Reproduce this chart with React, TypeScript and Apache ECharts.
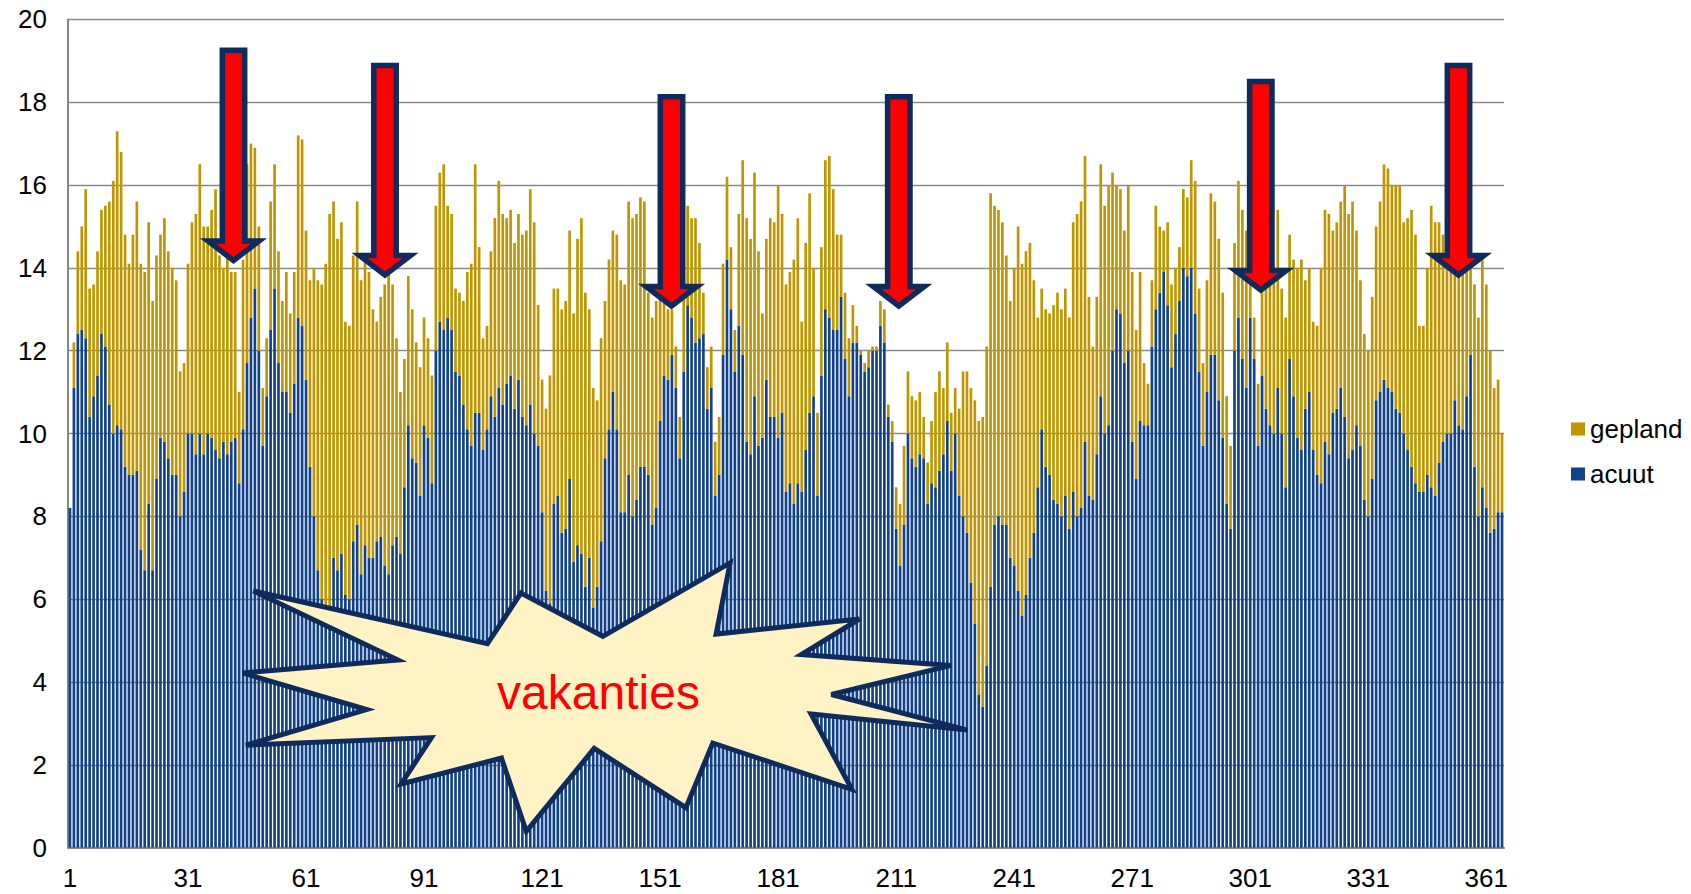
import React, { useEffect, useRef } from "react";
import * as echarts from "echarts";

const dayLabels: string[] = Array.from({ length: 365 }, (_, i) => String(i + 1));

const acuut: number[] = [
  8.2, 11.1, 12.4, 12.5, 12.3, 10.4, 10.9, 11.4, 12.4, 12.1,
  10.7, 10.0, 10.2, 10.1, 9.2, 9.0, 9.0, 9.1, 7.2, 6.7,
  8.3, 6.7, 8.9, 9.9, 9.8, 9.4, 9.0, 9.0, 8.0, 8.6,
  10.0, 10.0, 9.5, 10.0, 9.5, 10.0, 9.9, 9.6, 9.4, 9.8,
  9.5, 9.8, 9.9, 8.8, 10.1, 11.7, 12.8, 13.5, 12.0, 9.7,
  10.9, 12.5, 13.5, 11.7, 11.0, 11.0, 10.5, 11.2, 12.8, 12.6,
  11.3, 9.2, 8.0, 6.7, 6.0, 5.6, 5.8, 7.0, 6.7, 7.1,
  6.1, 6.0, 7.4, 7.8, 6.6, 7.3, 7.0, 7.0, 7.4, 7.5,
  6.8, 6.6, 7.3, 7.5, 7.1, 8.7, 10.2, 9.4, 9.3, 8.5,
  10.2, 9.9, 8.8, 12.0, 12.7, 12.5, 12.8, 12.5, 11.5, 11.4,
  10.7, 10.1, 9.7, 10.5, 10.5, 9.6, 10.1, 10.9, 10.4, 11.1,
  10.7, 11.2, 11.4, 10.6, 11.3, 10.4, 10.2, 10.7, 10.0, 9.7,
  8.1, 6.2, 5.9, 8.3, 8.5, 7.6, 7.7, 8.9, 6.9, 7.3,
  7.1, 6.3, 7.0, 5.8, 6.3, 7.4, 9.4, 10.1, 11.0, 10.1,
  8.1, 8.1, 9.0, 8.0, 8.4, 9.2, 9.2, 9.0, 7.8, 8.2,
  10.3, 11.4, 11.3, 11.9, 11.1, 9.4, 11.5, 13.1, 12.8, 12.2,
  12.3, 12.4, 10.6, 11.1, 8.5, 9.0, 11.9, 14.2, 13.0, 11.5,
  12.6, 11.9, 9.8, 9.5, 10.9, 9.7, 9.9, 11.3, 10.4, 10.4,
  9.9, 10.5, 8.6, 8.8, 8.3, 8.8, 8.6, 9.6, 10.5, 10.9,
  8.5, 11.4, 13.0, 12.8, 12.5, 12.5, 13.3, 11.8, 10.9, 12.2,
  12.2, 11.9, 11.5, 11.6, 12.0, 12.0, 12.6, 12.2, 10.4, 9.8,
  7.7, 6.8, 7.8, 10.0, 9.4, 9.2, 9.5, 9.4, 8.3, 8.8,
  8.7, 9.1, 9.5, 10.3, 9.1, 10.0, 8.5, 8.0, 7.6, 6.4,
  5.4, 3.7, 3.4, 4.4, 6.3, 7.8, 8.0, 7.8, 7.8, 7.0,
  6.8, 6.2, 5.6, 6.1, 7.0, 7.6, 8.7, 10.1, 9.2, 9.0,
  8.4, 8.3, 8.0, 8.5, 7.7, 8.6, 8.0, 8.2, 9.8, 8.5,
  8.4, 9.5, 10.9, 10.0, 10.2, 12.0, 13.0, 12.9, 11.7, 12.0,
  9.8, 8.9, 10.3, 10.2, 10.2, 12.1, 13.0, 13.4, 13.9, 13.1,
  11.6, 12.4, 13.2, 14.0, 13.8, 14.0, 12.9, 11.5, 9.7, 11.0,
  11.9, 11.9, 10.8, 9.9, 8.3, 7.7, 12.0, 12.8, 11.8, 11.1,
  12.8, 11.8, 9.7, 11.4, 10.6, 10.2, 10.0, 11.1, 10.0, 8.7,
  11.8, 10.9, 9.9, 9.6, 10.6, 11.0, 9.6, 9.0, 8.8, 9.8,
  9.5, 10.5, 10.6, 11.1, 10.4, 9.4, 9.6, 10.2, 9.7, 8.4,
  8.0, 8.9, 10.8, 11.0, 11.3, 11.1, 11.0, 10.6, 10.5, 10.0,
  9.6, 9.2, 8.8, 8.6, 8.6, 9.0, 8.7, 8.5, 9.3, 9.8,
  10.0, 10.0, 10.8, 10.2, 10.1, 10.9, 11.9, 9.2, 8.0, 8.7,
  8.2, 7.6, 7.7, 8.1, 8.1,
];

const gepland: number[] = [
  0.0, 1.1, 2.0, 2.5, 3.6, 3.1, 2.7, 3.0, 3.0, 3.4,
  4.9, 6.1, 7.1, 6.7, 5.6, 5.1, 5.8, 6.5, 6.9, 7.2,
  6.8, 6.5, 5.4, 4.9, 5.4, 5.0, 5.0, 4.7, 3.5, 3.1,
  4.1, 5.1, 5.8, 6.5, 5.5, 5.0, 5.5, 6.3, 4.9, 4.2,
  5.0, 4.1, 4.0, 2.2, 4.1, 4.8, 4.2, 3.4, 3.0, 1.4,
  1.4, 3.1, 3.0, 2.7, 2.2, 2.9, 2.4, 2.7, 4.4, 4.5,
  3.6, 4.5, 6.0, 7.0, 7.6, 8.5, 9.5, 8.6, 8.0, 8.0,
  6.6, 6.6, 6.9, 7.8, 7.1, 6.9, 6.9, 6.0, 5.3, 5.8,
  6.8, 7.4, 6.3, 4.8, 3.9, 3.1, 3.6, 3.6, 2.9, 3.1,
  2.6, 2.4, 2.6, 3.5, 3.6, 4.0, 2.7, 2.8, 2.0, 2.0,
  2.5, 3.8, 4.4, 6.0, 4.0, 2.7, 2.5, 3.5, 4.8, 5.0,
  4.6, 4.0, 4.0, 4.0, 4.0, 4.4, 4.7, 5.2, 5.1, 3.4,
  3.2, 4.4, 5.5, 5.2, 5.0, 5.4, 5.5, 6.0, 6.0, 7.4,
  8.1, 7.1, 6.0, 5.3, 4.5, 4.9, 3.8, 4.1, 3.9, 4.7,
  5.6, 5.5, 6.6, 7.2, 6.9, 6.5, 6.4, 4.4, 5.0, 5.0,
  3.1, 1.8, 1.7, 1.1, 1.0, 1.0, 2.1, 2.4, 2.4, 3.0,
  2.3, 1.0, 1.0, 1.0, 1.3, 1.4, 2.2, 2.0, 1.5, 1.0,
  2.7, 4.7, 5.4, 5.2, 5.4, 4.7, 3.0, 3.4, 4.8, 4.7,
  6.1, 4.8, 5.0, 5.1, 5.9, 6.4, 4.1, 5.0, 5.3, 3.1,
  2.0, 3.1, 3.6, 3.9, 3.4, 2.3, 1.5, 1.6, 1.4, 0.9,
  0.4, 0.1, 0.2, 0.4, 0.1, 0.1, 0.6, 0.8, 0.3, 0.5,
  1.0, 1.5, 1.9, 1.5, 1.5, 1.6, 1.5, 1.0, 1.0, 1.5,
  2.3, 2.4, 1.6, 1.9, 1.4, 1.1, 2.1, 3.5, 3.9, 4.7,
  5.4, 6.6, 7.0, 7.7, 9.5, 7.7, 7.4, 7.3, 6.5, 6.2,
  7.2, 8.8, 8.5, 8.3, 7.6, 6.1, 4.1, 3.4, 3.8, 3.9,
  4.7, 5.1, 5.0, 5.0, 5.1, 6.5, 7.3, 7.4, 6.9, 4.8,
  3.7, 3.8, 5.6, 5.5, 5.8, 4.3, 3.0, 3.0, 3.2, 4.0,
  4.1, 3.6, 3.6, 1.5, 1.0, 1.6, 2.5, 1.6, 1.0, 2.0,
  2.0, 1.6, 1.3, 1.9, 1.9, 2.6, 3.2, 2.0, 2.0, 2.7,
  3.9, 3.7, 3.9, 3.5, 2.6, 2.0, 2.6, 3.3, 3.6, 3.8,
  1.4, 1.0, 1.5, 2.2, 3.0, 3.6, 3.9, 4.3, 3.5, 4.1,
  3.0, 3.3, 4.1, 4.6, 3.1, 3.0, 3.1, 3.6, 5.2, 5.6,
  5.8, 4.4, 4.5, 4.5, 5.6, 5.9, 6.0, 4.7, 4.0, 4.0,
  4.0, 4.4, 4.2, 4.6, 5.2, 5.3, 5.0, 5.4, 5.5, 5.1,
  5.6, 6.2, 6.0, 4.0, 4.0, 5.0, 6.8, 6.6, 5.8, 5.0,
  4.4, 4.0, 3.4, 3.8, 3.9, 3.4, 3.6, 4.4, 4.8, 5.5,
  5.4, 4.4, 3.4, 3.2, 1.9,
];

const seriesNames = ["acuut", "gepland"];
const legendOrder = ["gepland", "acuut"];
const annotationText = "vakanties";

// Annotation arrows (pixel positions): center x, outer top y, outer tip y
const arrows = [
  { cx: 233.5, top: 47.5, tip: 264 },
  { cx: 385, top: 62.6, tip: 278.5 },
  { cx: 671.5, top: 93.9, tip: 309.5 },
  { cx: 898.8, top: 93.9, tip: 309.5 },
  { cx: 1260.8, top: 78.8, tip: 293.5 },
  { cx: 1458.5, top: 62.6, tip: 278.5 },
];

const starPoints: number[][] = [
  [253.4, 591.0], [487.4, 643.8], [520.9, 593.1], [602.8, 636.3],
  [730.1, 562.9], [716.1, 634.1], [859.5, 619.0], [801.3, 654.6],
  [951.1, 665.4], [831.4, 694.5], [967.3, 730.1], [811.0, 713.9],
  [851.9, 789.4], [712.8, 743.0], [685.9, 807.7], [594.2, 748.4],
  [526.3, 831.4], [501.5, 758.1], [401.2, 784.0], [431.4, 737.6],
  [245.9, 745.2], [366.7, 709.6], [242.6, 672.9], [397.9, 660.0],
];

const FONT = '"Liberation Sans", Arial, Helvetica, sans-serif';
const NAVY = "#0e2b5c";

function arrowPolygon(a: { cx: number; top: number; tip: number }) {
  const sw = 11.2; // half shaft width (stroke center)
  const hw = 25.5; // half head width
  const top = a.top + 2.8;
  const tip = a.tip - 3.5;
  const base = tip - 19.5;
  return [
    [a.cx - sw, top],
    [a.cx + sw, top],
    [a.cx + sw, base],
    [a.cx + hw, base],
    [a.cx, tip],
    [a.cx - hw, base],
    [a.cx - sw, base],
  ];
}

export default function App() {
  const ref = useRef<HTMLDivElement>(null);

  useEffect(() => {
    if (!ref.current) return;
    const chart = echarts.init(ref.current, undefined, { renderer: "svg" });

    const graphics: any[] = [];
    arrows.forEach((a) => {
      graphics.push({
        type: "polygon",
        z: 100,
        shape: { points: arrowPolygon(a) },
        style: { fill: "#ff0000", stroke: NAVY, lineWidth: 5.5, lineJoin: "miter" },
      });
    });
    graphics.push({
      type: "polygon",
      z: 100,
      shape: { points: starPoints },
      style: { fill: "#fff2c4", stroke: NAVY, lineWidth: 5, lineJoin: "miter" },
    });
    graphics.push({
      type: "text",
      z: 101,
      x: 598.5,
      y: 692.3,
      style: {
        text: annotationText,
        fill: "#ff0000",
        font: `48px ${FONT}`,
        textAlign: "center",
        textVerticalAlign: "middle",
        align: "center",
        verticalAlign: "middle",
      },
    });

    chart.setOption({
      animation: false,
      backgroundColor: "#ffffff",
      textStyle: { fontFamily: FONT },
      grid: { left: 68, right: 187, top: 19.4, bottom: 46.4, containLabel: false },
      legend: {
        data: legendOrder,
        orient: "vertical",
        left: 1566,
        top: 409,
        itemWidth: 14,
        itemHeight: 13,
        itemGap: 15,
        icon: "rect",
        textStyle: { fontSize: 26, color: "#000", fontFamily: FONT, lineHeight: 30 },
      },
      xAxis: {
        type: "category",
        data: dayLabels,
        boundaryGap: true,
        axisLine: { show: true, lineStyle: { color: "#868686", width: 2 } },
        axisTick: { show: false },
        axisLabel: {
          interval: 29,
          fontSize: 26,
          color: "#000",
          margin: 17,
          fontFamily: FONT,
        },
        splitLine: { show: false },
      },
      yAxis: {
        type: "value",
        min: 0,
        max: 20,
        interval: 2,
        axisLine: { show: true, lineStyle: { color: "#868686", width: 2 } },
        axisTick: { show: false },
        axisLabel: { fontSize: 26, color: "#000", margin: 21, fontFamily: FONT },
        splitLine: { show: true, lineStyle: { color: "#8a8a8a", width: 1.3 } },
      },
      series: [
        {
          name: seriesNames[0],
          type: "bar",
          stack: "total",
          data: acuut,
          barCategoryGap: "32%",
          itemStyle: { color: "#12428a" },
        },
        {
          name: seriesNames[1],
          type: "bar",
          stack: "total",
          data: gepland,
          barCategoryGap: "32%",
          itemStyle: { color: "#bf9600" },
        },
      ],
      graphic: graphics,
    });

    return () => chart.dispose();
  }, []);

  return (
    <div
      ref={ref}
      style={{ position: "absolute", left: 0, top: 0, width: 1691, height: 894, background: "#fff" }}
    />
  );
}
